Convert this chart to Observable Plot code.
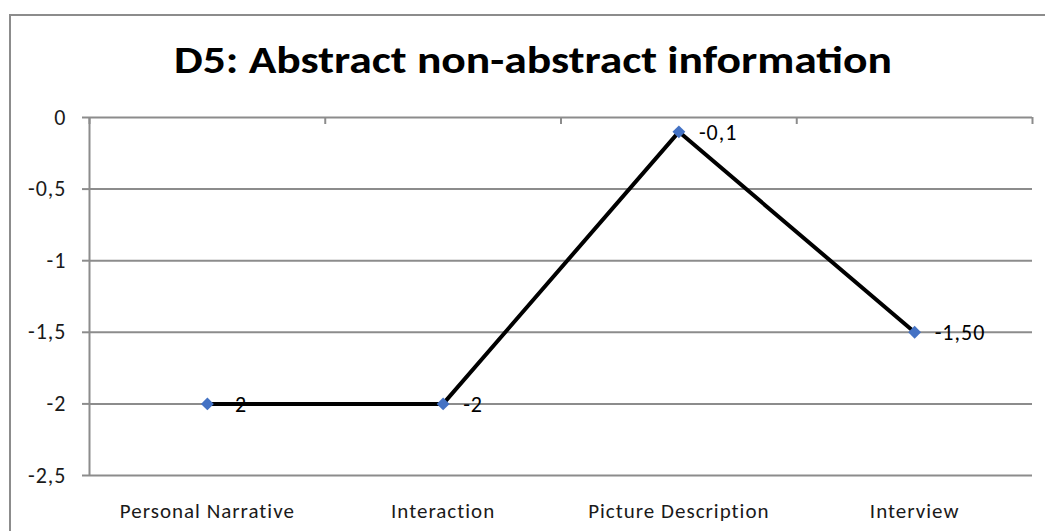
<!DOCTYPE html>
<html>
<head>
<meta charset="utf-8">
<script src="https://cdn.jsdelivr.net/npm/d3@7"></script>
<script src="https://cdn.jsdelivr.net/npm/@observablehq/plot@0.6"></script>
<style>
  body { margin: 0; background: #fff; }
  #chart { position: relative; width: 1045px; height: 531px; overflow: hidden; }
  #frame { position: absolute; left: 9px; top: 14px; width: 1100px; height: 600px;
           border-left: 2px solid #8c8c8c; border-top: 2px solid #8c8c8c; }
  #chart svg { position: absolute; left: 0; top: 0; }
  #chart svg text { letter-spacing: 1px; }
  #chart svg text.chart-title { letter-spacing: 0; }
</style>
</head>
<body>
<div id="chart"><div id="frame"></div></div>
<script>
// Chart data
const title = "D5: Abstract non-abstract information";
const categories = ["Personal Narrative", "Interaction", "Picture Description", "Interview"];
const values = [-2, -2, -0.1, -1.5];
const valueLabels = ["-2", "-2", "-0,1", "-1,50"];
const yTicks = [0, -0.5, -1, -1.5, -2, -2.5];
const yDomain = [-2.5, 0];

const data = categories.map((category, i) => ({i, category, value: values[i], label: valueLabels[i]}));
// category boundaries (half-way between neighbouring categories)
const boundaries = d3.range(categories.length + 1).map(k => k - 0.5);

const W = 1045, H = 531;
const mt = 117, mb = 56, ml = 89, mr = 13;
const font = "Carlito, Calibri, Lato, sans-serif";
const gridColor = "#8c8c8c";
const textColor = "#1a1a1a";
const decimalComma = d => String(d).replace(".", ",");

const plot = Plot.plot({
  width: W,
  height: H,
  marginTop: mt,
  marginBottom: mb,
  marginLeft: ml,
  marginRight: mr,
  style: {fontFamily: font, fontSize: "20px", background: "transparent", color: textColor},
  x: {type: "linear", domain: [-0.5, categories.length - 0.5]},
  y: {domain: yDomain},
  marks: [
    Plot.gridY(yTicks, {stroke: gridColor, strokeOpacity: 1, strokeWidth: 2}),
    Plot.ruleX([boundaries[0]], {stroke: gridColor, strokeWidth: 2}),
    // small category tick marks hanging from the zero line
    Plot.ruleX(boundaries, {stroke: gridColor, strokeWidth: 2, insetBottom: H - mt - mb - 7}),
    Plot.axisY(yTicks, {
      tickSize: 7, tickPadding: 16, stroke: gridColor, strokeWidth: 2,
      fill: textColor, fontSize: 22, tickFormat: decimalComma, label: null
    }),
    Plot.axisX(d3.range(categories.length), {
      tickSize: 0, tickPadding: 28, fill: textColor, fontSize: 21,
      tickFormat: i => categories[i], label: null
    }),
    Plot.line(data, {x: "i", y: "value", stroke: "black", strokeWidth: 4}),
    Plot.dot(data, {x: "i", y: "value", symbol: "diamond2", r: 5.8, fill: "#4472C4", stroke: null}),
    Plot.text(data, {x: "i", y: "value", text: "label", dx: 20, dy: 1, textAnchor: "start", fontSize: 22, fill: "black"}),
    Plot.text([title], {
      frameAnchor: "top", lineAnchor: "middle", dx: -28, dy: -57,
      fontSize: 39, fontWeight: "bold", fill: "black"
    })
  ]
});

d3.select(plot).selectAll("text")
  .filter(function () { return this.textContent === title; })
  .attr("class", "chart-title")
  .attr("textLength", 718)
  .attr("lengthAdjust", "spacingAndGlyphs");

document.getElementById("chart").appendChild(plot);
</script>
</body>
</html>
